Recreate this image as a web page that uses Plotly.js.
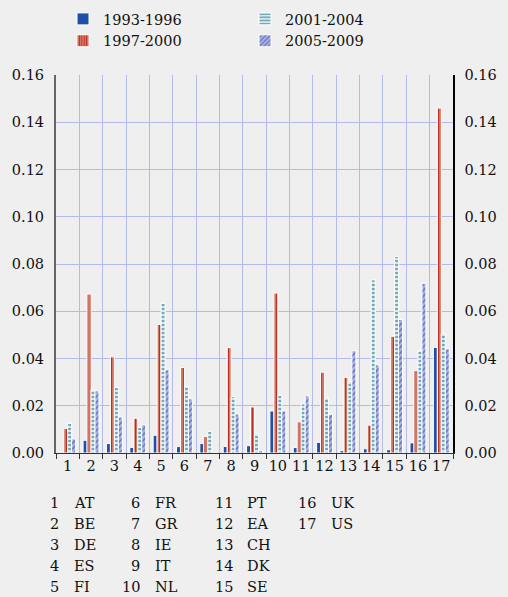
<!DOCTYPE html>
<html>
<head>
<meta charset="utf-8">
<script src="https://cdn.plot.ly/plotly-3.0.1.min.js"></script>
<style>
html,body{margin:0;padding:0;background:#efefef;}
#chart{width:508px;height:597px;}
</style>
</head>
<body>
<div id="chart"></div>
<script>
// Category numbers and country codes
const categories = ['1','2','3','4','5','6','7','8','9','10','11','12','13','14','15','16','17'];
const countryCodes = ['AT','BE','DE','ES','FI','FR','GR','IE','IT','NL','PT','EA','CH','DK','SE','UK','US'];
const seriesNames = ['1993-1996','1997-2000','2001-2004','2005-2009'];

// Values per period
const p1993 = [null, 0.0054, 0.0040, 0.0024, 0.0075, 0.0027, 0.0040, 0.0028, 0.0031, 0.0178, 0.0023, 0.0045, 0.0010, 0.0018, 0.0014, 0.0043, 0.0447];
const p1997 = [0.0104, 0.0673, 0.0407, 0.0147, 0.0544, 0.0362, 0.0070, 0.0446, 0.0195, 0.0677, 0.0132, 0.0342, 0.0320, 0.0118, 0.0494, 0.0349, 0.1460];
const p2001 = [0.0126, 0.0267, 0.0278, 0.0108, 0.0634, 0.0282, 0.0092, 0.0238, 0.0081, 0.0244, 0.0208, 0.0235, 0.0302, 0.0733, 0.0832, 0.0434, 0.0506];
const p2005 = [0.0060, 0.0263, 0.0152, 0.0120, 0.0352, 0.0229, null, 0.0165, 0.0010, 0.0178, 0.0242, 0.0164, 0.0433, 0.0373, 0.0565, 0.0718, 0.0441];

const yTickVals = [0, 0.02, 0.04, 0.06, 0.08, 0.10, 0.12, 0.14, 0.16];
const yTickText = ['0.00','0.02','0.04','0.06','0.08','0.10','0.12','0.14','0.16'];

const FONT = 'DejaVu Serif';
const FS = 14.5;
const line = {color:'#ffffff', width:1};

const traces = [
  {type:'bar', name:seriesNames[0], x:categories, y:p1993, legendrank:1,
   marker:{color:'#1f4fa6', line:line}},
  {type:'bar', name:seriesNames[1], x:categories, y:p1997, legendrank:3,
   marker:{color:'#e39a88', line:line, pattern:{shape:'|', fgcolor:'#bc2f1e', bgcolor:'#e6a090', size:3, solidity:0.6}}},
  {type:'bar', name:seriesNames[2], x:categories, y:p2001, legendrank:2,
   marker:{color:'#d6e8ee', line:line, pattern:{shape:'-', fgcolor:'#5a9aaa', bgcolor:'#d6e8ee', size:4, solidity:0.4}}},
  {type:'bar', name:seriesNames[3], x:categories, y:p2005, legendrank:4,
   marker:{color:'#a4b0e0', line:line, pattern:{shape:'/', fgcolor:'#5565b5', bgcolor:'#a8b3e2', size:4, solidity:0.3}}},
  {type:'scatter', mode:'none', x:categories, y:categories.map(()=>null), yaxis:'y2', showlegend:false, hoverinfo:'skip'}
];

// layout geometry (pixels)
const W = 508, H = 597;
const mL = 56, mR = 55, mT = 75, mB = 144;
const plotW = W - mL - mR, plotH = H - mT - mB;
const px2x = px => (px - mL) / plotW;
const py2y = py => (H - mB - py) / plotH;

const annotations = [];
const colNumRight = [61, 142, 235, 318];
const colCodeLeft = [72, 153, 245, 329];
const rowY = [503, 524, 545, 566, 587];
countryCodes.forEach((code, i) => {
  const col = Math.floor(i / 5), row = i % 5;
  annotations.push({xref:'paper', yref:'paper', x:px2x(colNumRight[col]), y:py2y(rowY[row]),
    xanchor:'right', yanchor:'middle', text:categories[i], showarrow:false,
    font:{family:FONT, size:FS, color:'#111'}});
  annotations.push({xref:'paper', yref:'paper', x:px2x(colCodeLeft[col]), y:py2y(rowY[row]),
    xanchor:'left', yanchor:'middle', text:code, showarrow:false,
    font:{family:FONT, size:FS, color:'#111'}});
});

const layout = {
  width: W, height: H,
  paper_bgcolor:'#efefef', plot_bgcolor:'#efefef',
  margin:{l:mL, r:mR, t:mT, b:mB, pad:0},
  font:{family:FONT, size:FS, color:'#111'},
  barmode:'group', bargap:0.32, bargroupgap:0,
  showlegend:true,
  legend:{orientation:'h', x:px2x(63), xanchor:'left', yref:'container', y:0.995, yanchor:'top',
    entrywidth:137, entrywidthmode:'pixels', traceorder:'normal',
    bgcolor:'rgba(0,0,0,0)', font:{family:FONT, size:FS, color:'#111'}, itemwidth:30},
  xaxis:{type:'category', tickson:'boundaries', ticks:'outside', ticklen:5, tickcolor:'#333', tickwidth:1,
    tickangle:0,
    showgrid:true, gridcolor:'#b3bbe6', gridwidth:1,
    showline:true, linecolor:'#333', linewidth:1,
    tickfont:{family:FONT, size:FS, color:'#111'}, fixedrange:true},
  yaxis:{range:[0,0.16], tickvals:yTickVals, ticktext:yTickText, ticks:'',
    showgrid:true, gridcolor:'#b3bbe6', gridwidth:1, zeroline:false,
    showline:true, linecolor:'#666', linewidth:2, ticklabelstandoff:7,
    tickfont:{family:FONT, size:FS, color:'#111'}},
  yaxis2:{overlaying:'y', side:'right', range:[0,0.16], tickvals:yTickVals, ticktext:yTickText,
    showgrid:false, zeroline:false, showline:true, linecolor:'#000', linewidth:1.5,
    ticks:'', ticklabelstandoff:7, tickfont:{family:FONT, size:FS, color:'#111'}},
  annotations: annotations
};

Plotly.newPlot('chart', traces, layout, {displayModeBar:false, staticPlot:true});
</script>
</body>
</html>
